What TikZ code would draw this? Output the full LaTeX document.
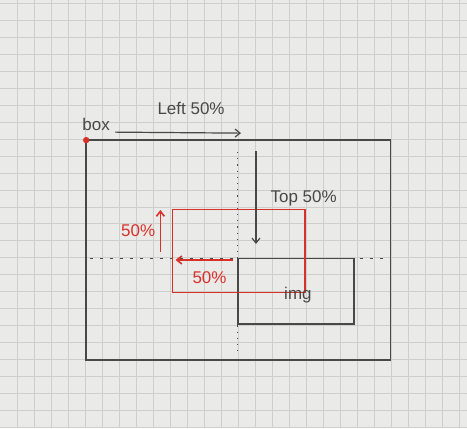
\documentclass[tikz,border=0pt]{standalone}
\usepackage{fontspec}
\setmainfont{Liberation Sans}
\usetikzlibrary{arrows.meta}
\definecolor{paper}{RGB}{234,234,232}
\definecolor{gridgray}{RGB}{206,206,204}
\definecolor{pencilgray}{RGB}{72,72,72}
\definecolor{redink}{RGB}{218,48,42}

\begin{document}
\begin{tikzpicture}[x=1pt, y=-1pt,
  pencil/.style={draw=pencilgray, line width=1.5pt},
  redline/.style={draw=redink, line width=1.6pt},
  tip/.style={-{Straight Barb[length=5pt, width=8pt]}},
  lbl/.style={inner sep=0pt, font=\fontsize{17}{20}\selectfont}]
  % grid paper
  \fill[paper] (0,0) rectangle (467,428);
  \foreach \i in {0,...,26}
    \draw[gridgray, line width=0.6pt] ({16.7+17.02*\i},0) -- ({16.7+17.02*\i},428);
  \foreach \j in {0,...,25}
    \draw[gridgray, line width=0.6pt] (0,{3.3+16.96*\j}) -- (467,{3.3+16.96*\j});
  \useasboundingbox (0,0) rectangle (467,428);

  % corner points
  \coordinate (box-nw) at (86,140);
  \coordinate (box-se) at (390.5,360);
  \coordinate (img-nw) at (238,258.3);
  \coordinate (img-se) at (354,324);
  \coordinate (red-nw) at (172.5,209.3);
  \coordinate (red-se) at (305,292.7);

  % guide lines through the middle of box
  \draw[pencil, line width=1pt, dash pattern=on 1.2pt off 5pt] (238,152) -- (238,356);
  \draw[pencil, line width=1pt, dash pattern=on 3pt off 7pt] (90,258.3) -- (390,258.3);

  % box and img
  \draw[pencil] (box-nw) rectangle (box-se);
  \draw[pencil] (img-nw) rectangle (img-se);
  \fill[redink] (box-nw) circle (3.2pt);

  % img moved back by translate(-50%,-50%)
  \draw[redline] (red-nw) rectangle (red-se);

  % left / top offsets
  \coordinate (left-from) at (115,132);
  \coordinate (left-to) at (241,133);
  \coordinate (top-from) at (256,151);
  \coordinate (top-to) at (256,244);
  \draw[pencil, line width=1.2pt, tip] (left-from) -- (left-to);
  \draw[pencil, line width=1.2pt, tip] (top-from) -- (top-to);

  % translate arrows
  \coordinate (up-from) at (160.3,252);
  \coordinate (up-to) at (160.3,210);
  \coordinate (back-from) at (233,260);
  \coordinate (back-to) at (175.5,260);
  \draw[redline, tip] (up-from) -- (up-to);
  \draw[redline, tip] (back-from) -- (back-to);

  % labels
  \node[lbl, pencilgray] (box-lbl) at (96,124) {box};
  \node[lbl, pencilgray] (left-lbl) at (191,108.5) {Left 50\%};
  \node[lbl, pencilgray] (top-lbl) at (303.7,198.3) {Top 50\%};
  \node[lbl, pencilgray] (img-lbl) at (298,295) {img};
  \node[lbl, redink] (up-lbl) at (138,230.7) {50\%};
  \node[lbl, redink] (back-lbl) at (209.5,277.3) {50\%};
\end{tikzpicture}
\end{document}
